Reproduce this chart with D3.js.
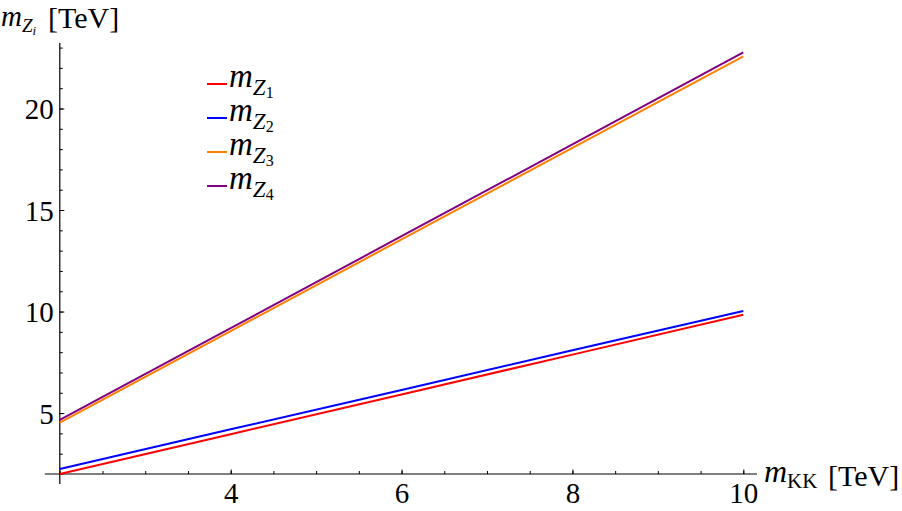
<!DOCTYPE html>
<html>
<head>
<meta charset="utf-8">
<script src="https://cdn.jsdelivr.net/npm/d3@7"></script>
<style>
  html, body { margin: 0; padding: 0; background: #fff; }
  svg { display: block; }
  text { font-family: "Liberation Serif", "Times New Roman", serif; fill: #000; }
</style>
</head>
<body>
<svg id="chart" width="902" height="511"></svg>
<script>
// ---- data ----
const mKK = [2, 4, 6, 8, 10];
const mZ1 = [2.00, 3.96, 5.92, 7.88, 9.84];
const mZ2 = [2.25, 4.20, 6.14, 8.09, 10.03];
const mZ3 = [4.53, 9.04, 13.55, 18.06, 22.57];
const mZ4 = [4.66, 9.18, 13.71, 18.23, 22.76];
const seriesNames = ["1", "2", "3", "4"];
const seriesColors = ["#ff0000", "#0000ff", "#ff8000", "#800080"];
const xTicks = [4, 6, 8, 10];
const yTicks = [5, 10, 15, 20];
const xMinorTicks = d3.range(2, 10.01, 0.5);
const yMinorTicks = d3.range(2, 23.01, 1);

const series = [mZ1, mZ2, mZ3, mZ4];

const svg = d3.select("#chart");
const x = d3.scaleLinear().domain([2, 10]).range([59.8, 743.3]);
const y = d3.scaleLinear().domain([2, 20]).range([474, 108.5]);
const xAxisEnd = 10.16, yAxisTop = 23.22;

// minor ticks
svg.append("g").attr("transform", `translate(0,${y(2)})`)
  .call(d3.axisBottom(x).tickValues(xMinorTicks).tickSize(-3).tickFormat(""))
  .call(g => g.select(".domain").remove())
  .selectAll("line").attr("stroke", "#000");
svg.append("g").attr("transform", `translate(${x(2)},0)`)
  .call(d3.axisLeft(y).tickValues(yMinorTicks).tickSize(-3).tickFormat(""))
  .call(g => g.select(".domain").remove())
  .selectAll("line").attr("stroke", "#000");

// major ticks + labels
const xAxis = svg.append("g").attr("transform", `translate(0,${y(2)})`)
  .call(d3.axisBottom(x).tickValues(xTicks).tickSizeInner(-4.5).tickSizeOuter(0).tickPadding(8).tickFormat(d3.format("d")));
xAxis.select(".domain").remove();
xAxis.selectAll("line").attr("stroke", "#000");
xAxis.selectAll("text").attr("font-size", 29).attr("font-family", "Liberation Serif").attr("fill", "#000").attr("dy", "0.71em");

const yAxis = svg.append("g").attr("transform", `translate(${x(2)},0)`)
  .call(d3.axisLeft(y).tickValues(yTicks).tickSizeInner(-4.5).tickSizeOuter(0).tickPadding(6).tickFormat(d3.format("d")));
yAxis.select(".domain").remove();
yAxis.selectAll("line").attr("stroke", "#000");
yAxis.selectAll("text").attr("font-size", 29).attr("font-family", "Liberation Serif").attr("fill", "#000").attr("dy", "0.35em");

// axis lines
svg.append("line").attr("x1", x(2) - 15).attr("x2", x(xAxisEnd))
  .attr("y1", y(2)).attr("y2", y(2)).attr("stroke", "#000").attr("stroke-width", 1.2);
svg.append("line").attr("x1", x(2)).attr("x2", x(2))
  .attr("y1", y(yAxisTop)).attr("y2", y(2) + 10).attr("stroke", "#000").attr("stroke-width", 1.2);

// series lines
const line = d3.line().x((d, i) => x(mKK[i])).y(d => y(d));
series.forEach((s, k) => {
  svg.append("path").datum(s).attr("d", line)
    .attr("fill", "none").attr("stroke", seriesColors[k]).attr("stroke-width", 2);
});

// legend
const legend = svg.append("g");
seriesNames.forEach((n, k) => {
  const yy = 84 + k * 34;
  legend.append("line").attr("x1", 207).attr("x2", 227).attr("y1", yy).attr("y2", yy)
    .attr("stroke", seriesColors[k]).attr("stroke-width", 2);
  const t = legend.append("text").attr("x", 229).attr("y", yy + 3);
  t.append("tspan").attr("font-style", "italic").attr("font-size", 33).text("m");
  t.append("tspan").attr("font-style", "italic").attr("font-size", 23).attr("dy", 8).text("Z");
  t.append("tspan").attr("font-size", 16).attr("dy", 3).text(n);
});

// y-axis title
const yt = svg.append("text").attr("x", 1).attr("y", 26);
yt.append("tspan").attr("font-style", "italic").attr("font-size", 29).text("m");
yt.append("tspan").attr("font-style", "italic").attr("font-size", 19).attr("dy", 6).text("Z");
yt.append("tspan").attr("font-style", "italic").attr("font-size", 13).attr("dy", 3).text("i");
svg.append("text").attr("x", 48).attr("y", 28).attr("font-size", 30).text("[TeV]");

// x-axis title
const xt = svg.append("text").attr("x", 764).attr("y", 482);
xt.append("tspan").attr("font-style", "italic").attr("font-size", 32).text("m");
xt.append("tspan").attr("font-size", 21).attr("dy", 6).text("KK");
svg.append("text").attr("x", 828).attr("y", 486).attr("font-size", 30).text("[TeV]");
</script>
</body>
</html>
